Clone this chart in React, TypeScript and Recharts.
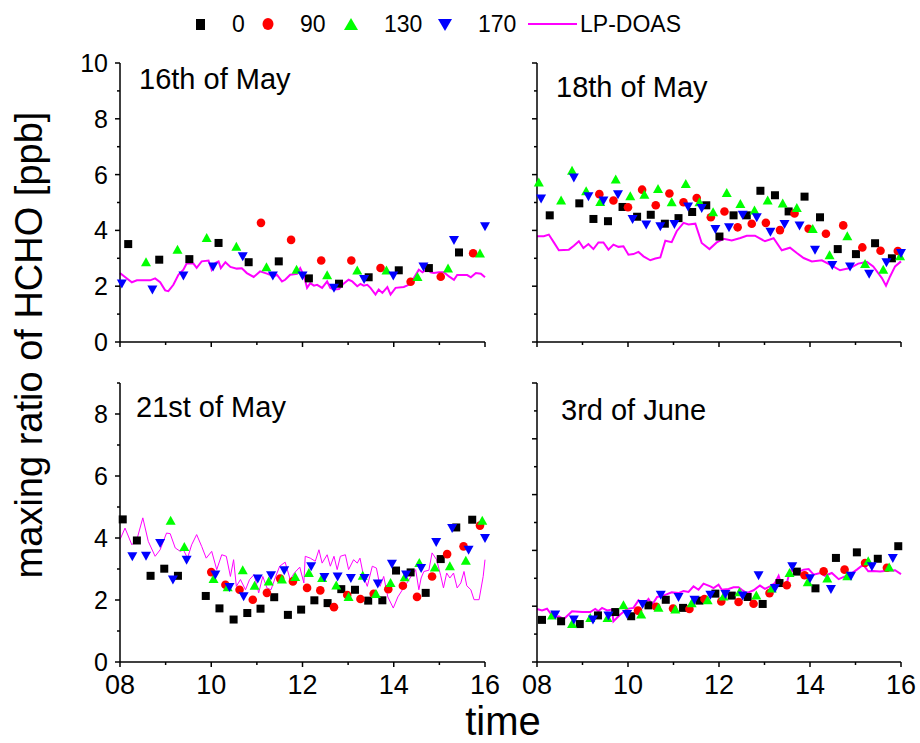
import React from 'react';
import { ComposedChart, Scatter, Line, XAxis, YAxis } from 'recharts';

const FONT = '"Liberation Sans", Arial, sans-serif';

// hour of day, mixing ratio (ppb)
const may16Ch0 = [[8.18,3.51],[8.86,2.95],[9.52,2.97],[10.16,3.55],[10.82,2.86],[11.48,2.89],[12.14,2.28],[12.80,2.09],[13.45,2.32],[14.11,2.57],[14.77,2.65],[15.43,3.21]];
const may16Ch90 = [[11.09,4.27],[11.75,3.66],[12.41,2.92],[13.07,2.92],[13.71,2.65],[14.37,2.16],[15.03,2.34],[15.74,3.18]];
const may16Ch130 = [[8.57,2.86],[9.26,3.31],[9.90,3.73],[10.55,3.41],[11.21,2.68],[11.87,2.59],[12.54,2.39],[13.20,2.56],[13.84,2.56],[14.52,2.33],[15.19,2.63],[15.89,3.17]];
const may16Ch170 = [[8.04,2.10],[8.71,1.88],[9.39,2.38],[10.04,2.71],[10.69,3.07],[11.35,2.38],[12.00,2.38],[12.69,1.94],[13.35,2.26],[13.99,2.38],[14.65,2.71],[15.32,3.66],[16.00,4.15]];
const may16Lp = [[8.00,2.47],[8.11,2.33],[8.26,2.14],[8.37,2.21],[8.51,2.21],[8.66,2.21],[8.77,2.28],[8.88,2.14],[8.99,1.85],[9.06,1.82],[9.17,2.05],[9.28,2.41],[9.39,2.59],[9.46,2.81],[9.61,2.81],[9.68,2.66],[9.79,2.89],[9.94,2.92],[10.01,2.59],[10.09,2.83],[10.16,2.89],[10.21,2.65],[10.31,2.86],[10.42,2.69],[10.56,2.63],[10.67,2.64],[10.78,2.47],[10.93,2.33],[11.07,2.53],[11.22,2.45],[11.29,2.41],[11.37,2.35],[11.44,2.41],[11.55,2.17],[11.62,2.23],[11.73,2.41],[11.88,2.44],[11.95,2.65],[12.03,2.38],[12.10,1.94],[12.17,2.11],[12.25,2.02],[12.32,2.05],[12.43,1.94],[12.54,2.17],[12.61,1.94],[12.69,1.88],[12.80,1.90],[12.90,2.09],[13.01,2.23],[13.09,2.17],[13.20,2.00],[13.27,2.08],[13.34,2.02],[13.42,2.05],[13.49,1.94],[13.60,1.70],[13.67,1.88],[13.75,1.76],[13.86,1.97],[13.93,1.70],[14.04,1.94],[14.22,1.97],[14.33,2.05],[14.44,2.29],[14.55,2.59],[14.63,2.50],[14.73,2.62],[14.81,2.50],[14.88,2.47],[14.99,2.50],[15.10,2.50],[15.21,2.35],[15.32,2.23],[15.39,2.40],[15.50,2.40],[15.61,2.40],[15.69,2.32],[15.80,2.47],[15.91,2.45],[16.00,2.32]];

const may18Ch0 = [[8.28,4.54],[8.93,4.97],[9.24,4.41],[9.56,4.33],[9.88,4.84],[10.20,4.49],[10.50,4.56],[10.81,4.24],[11.11,4.44],[11.41,4.66],[11.72,4.90],[12.01,3.78],[12.32,4.54],[12.61,4.54],[12.91,5.42],[13.23,5.26],[13.53,4.68],[13.88,5.21],[14.22,4.47],[14.61,3.33],[15.01,3.15],[15.43,3.54],[15.80,3.00]];
const may18Ch90 = [[9.37,5.30],[9.68,5.07],[10.00,4.83],[10.31,5.46],[10.61,4.90],[10.91,5.32],[11.22,5.01],[11.51,5.16],[11.82,4.47],[12.12,4.68],[12.41,4.11],[12.72,4.24],[13.03,4.27],[13.34,4.01],[13.66,4.61],[13.97,4.06],[14.35,3.88],[14.73,4.18],[15.15,3.39],[15.55,3.27],[15.93,3.26]];
const may18Ch130 = [[8.04,5.72],[8.53,5.07],[8.77,6.14],[9.08,5.40],[9.39,5.02],[9.73,5.82],[10.05,5.22],[10.36,5.28],[10.66,5.48],[10.96,5.01],[11.27,5.66],[11.57,5.01],[11.87,4.65],[12.17,5.34],[12.47,4.95],[12.78,4.71],[13.07,5.07],[13.40,4.96],[13.71,4.80],[14.06,4.05],[14.43,3.11],[14.82,3.79],[15.21,2.80],[15.61,2.59],[15.98,3.07]];
const may18Ch170 = [[8.09,5.14],[8.81,5.90],[9.13,5.22],[9.46,5.07],[9.78,5.30],[10.10,4.41],[10.40,4.21],[10.71,4.15],[11.02,4.23],[11.32,4.86],[11.62,4.80],[11.92,4.05],[12.22,4.11],[12.52,4.56],[12.83,4.47],[13.13,3.95],[13.44,4.23],[13.77,4.18],[14.11,3.31],[14.49,2.76],[14.88,2.71],[15.30,2.45],[15.68,2.86],[16.00,3.19]];
const may18Lp = [[8.00,3.79],[8.15,3.79],[8.26,3.85],[8.37,3.57],[8.48,3.29],[8.70,3.31],[8.81,3.45],[8.92,3.61],[9.02,3.37],[9.13,3.51],[9.24,3.33],[9.35,3.57],[9.46,3.57],[9.57,3.31],[9.68,3.49],[9.79,3.41],[9.90,3.43],[10.01,3.13],[10.12,3.15],[10.23,3.23],[10.34,3.07],[10.49,2.93],[10.60,2.99],[10.71,3.03],[10.82,3.63],[10.96,3.58],[11.07,3.97],[11.22,4.27],[11.33,4.21],[11.48,4.24],[11.62,3.55],[11.79,3.33],[11.95,3.57],[12.10,3.70],[12.28,3.64],[12.47,3.73],[12.61,3.81],[12.79,3.81],[13.01,3.61],[13.20,3.72],[13.38,3.29],[13.56,3.38],[13.71,3.19],[13.86,3.01],[14.04,2.89],[14.26,2.93],[14.44,2.77],[14.66,2.57],[14.88,2.65],[15.06,2.81],[15.25,2.87],[15.39,2.71],[15.58,2.29],[15.67,2.02],[15.76,2.35],[15.87,2.71],[16.00,2.89]];

const may21Ch0 = [[8.06,4.60],[8.37,3.92],[8.67,2.78],[8.97,3.01],[9.27,2.78],[9.88,2.13],[10.18,1.73],[10.49,1.37],[10.79,1.58],[11.08,1.72],[11.38,2.09],[11.68,1.52],[11.97,1.69],[12.26,1.99],[12.55,1.90],[12.85,2.35],[13.15,2.33],[13.44,1.98],[13.75,1.99],[14.05,2.95],[14.37,2.89],[14.70,2.23],[15.03,3.32],[15.37,4.34],[15.72,4.59]];
const may21Ch90 = [[10.00,2.90],[10.31,2.49],[10.62,2.33],[10.91,2.01],[11.22,2.23],[11.51,2.69],[11.79,2.60],[12.10,2.39],[12.39,2.31],[12.69,1.77],[12.98,2.16],[13.27,2.03],[13.56,2.20],[13.88,2.35],[14.20,2.46],[14.51,2.10],[14.84,2.76],[15.17,3.48],[15.53,3.73],[15.89,4.40]];
const may21Ch130 = [[9.11,4.56],[9.41,3.71],[10.05,2.68],[10.36,2.41],[10.69,2.96],[10.95,2.46],[11.26,2.60],[11.55,2.66],[11.84,2.74],[12.14,2.87],[12.43,2.71],[12.74,2.47],[13.01,2.10],[13.32,2.78],[13.61,2.19],[13.93,2.55],[14.24,2.73],[14.56,3.19],[14.90,3.05],[15.23,3.09],[15.58,3.27],[15.94,4.56]];
const may21Ch170 = [[8.27,3.41],[8.57,3.43],[8.88,3.84],[9.16,2.66],[9.46,3.30],[10.09,2.82],[10.40,2.42],[10.71,2.12],[11.02,2.69],[11.31,2.80],[11.60,2.96],[12.19,3.09],[12.48,2.74],[12.77,2.76],[13.06,2.71],[13.36,2.71],[13.65,2.53],[13.96,3.17],[14.27,2.82],[14.60,3.03],[14.93,3.87],[15.28,4.32],[15.64,3.62],[16.00,4.00]];
const may21Lp = [[8.00,3.95],[8.11,4.32],[8.26,3.78],[8.37,3.95],[8.50,4.65],[8.62,3.89],[8.77,3.41],[8.88,3.62],[9.02,4.16],[9.10,4.14],[9.21,3.68],[9.32,3.57],[9.39,3.62],[9.48,3.35],[9.57,3.78],[9.68,4.11],[9.79,3.73],[9.89,3.35],[10.01,3.57],[10.12,2.98],[10.23,3.46],[10.33,3.41],[10.42,2.76],[10.49,3.30],[10.55,2.44],[10.64,2.66],[10.75,2.33],[10.84,2.66],[10.94,2.82],[11.04,2.23],[11.13,2.76],[11.22,2.39],[11.31,2.33],[11.40,2.71],[11.50,3.09],[11.62,3.22],[11.73,2.66],[11.82,2.87],[11.94,3.06],[12.03,2.55],[12.06,3.41],[12.17,3.35],[12.28,3.25],[12.36,3.62],[12.43,3.19],[12.54,3.46],[12.61,3.09],[12.69,3.41],[12.76,2.98],[12.83,3.41],[12.94,3.46],[13.01,2.98],[13.12,3.30],[13.20,3.19],[13.26,3.35],[13.34,2.76],[13.42,2.44],[13.53,3.09],[13.62,3.03],[13.70,2.44],[13.78,2.76],[13.87,2.10],[13.99,1.74],[14.09,2.10],[14.19,2.33],[14.28,2.53],[14.38,2.76],[14.48,2.98],[14.55,2.33],[14.60,2.71],[14.66,2.92],[14.77,2.96],[14.84,3.52],[14.94,3.30],[15.03,2.78],[15.09,2.39],[15.16,2.87],[15.23,2.71],[15.31,2.87],[15.39,2.39],[15.47,2.55],[15.54,2.92],[15.60,2.46],[15.69,2.33],[15.76,2.01],[15.87,2.01],[15.96,2.76],[16.00,3.30]];

const jun3Ch0 = [[8.11,1.51],[8.53,1.46],[8.94,1.36],[9.34,1.67],[9.72,1.79],[10.07,1.64],[10.45,2.03],[10.83,2.23],[11.21,1.94],[11.57,2.20],[11.92,2.45],[12.28,2.38],[12.63,2.33],[12.96,2.08],[13.33,2.83],[13.71,3.24],[14.12,2.64],[14.57,3.73],[15.03,3.93],[15.49,3.70],[15.94,4.15]];
const jun3Ch90 = [[10.22,1.84],[10.62,1.98],[10.99,1.92],[11.35,1.90],[11.68,2.26],[12.05,2.17],[12.43,2.15],[12.76,2.09],[13.11,2.47],[13.49,2.75],[13.88,3.11],[14.30,3.25],[14.76,3.31],[15.21,3.55],[15.69,3.38]];
const jun3Ch130 = [[8.33,1.67],[8.77,1.36],[9.17,1.58],[9.55,1.58],[9.90,2.03],[10.29,1.70],[10.67,1.94],[11.04,1.88],[11.40,2.11],[11.75,2.21],[12.10,2.35],[12.45,2.50],[12.82,2.38],[13.16,2.63],[13.55,3.19],[13.95,2.86],[14.38,2.99],[14.82,3.07],[15.28,3.61],[15.74,3.39]];
const jun3Ch170 = [[8.40,1.70],[8.81,1.52],[9.23,1.52],[9.57,1.67],[9.98,1.72],[10.32,2.08],[10.72,2.41],[11.11,2.33],[11.46,2.23],[11.81,2.41],[12.14,2.44],[12.52,2.38],[12.87,3.11],[13.23,2.65],[13.61,3.43],[14.00,3.00],[14.46,2.62],[14.90,3.09],[15.36,3.43],[15.82,3.73]];
const jun3Lp = [[8.00,1.90],[8.11,1.85],[8.22,1.91],[8.37,1.58],[8.48,1.64],[8.59,1.54],[8.77,1.82],[8.99,1.79],[9.17,1.79],[9.28,1.90],[9.35,1.82],[9.43,1.94],[9.54,1.85],[9.65,1.88],[9.68,1.46],[9.83,1.70],[9.98,1.90],[10.12,1.94],[10.23,2.21],[10.34,2.05],[10.45,2.26],[10.53,2.05],[10.64,2.33],[10.78,2.38],[10.96,2.50],[11.11,2.47],[11.22,2.54],[11.33,2.51],[11.44,2.71],[11.55,2.59],[11.66,2.81],[11.81,2.71],[11.88,2.65],[11.99,2.77],[12.06,2.59],[12.21,2.62],[12.32,2.68],[12.43,2.68],[12.50,2.59],[12.61,2.47],[12.76,2.57],[12.90,2.74],[13.01,2.62],[13.12,2.71],[13.23,2.83],[13.31,3.09],[13.38,2.74],[13.49,2.81],[13.56,3.29],[13.71,3.21],[13.86,3.31],[13.97,3.33],[14.08,3.13],[14.22,3.19],[14.33,3.09],[14.48,3.19],[14.63,2.97],[14.77,3.07],[14.88,3.13],[15.03,3.31],[15.17,3.49],[15.28,3.25],[15.39,3.26],[15.54,3.24],[15.69,3.27],[15.87,3.29],[16.00,3.15]];

const xTicks = [8, 9, 10, 11, 12, 13, 14, 15, 16];
const yTicks10 = [0, 1, 2, 3, 4, 5, 6, 7, 8, 9, 10];
const yTicks9 = [0, 1, 2, 3, 4, 5, 6, 7, 8, 9];

const pts = (a: number[][]) => a.map(([x, y]) => ({ x, y }));

const Square = (p: any) => <rect x={p.cx - 4} y={p.cy - 4} width={8} height={8} fill="#000000" />;
const Dot = (p: any) => <circle cx={p.cx} cy={p.cy} r={4.3} fill="#ff0000" />;
const Up = (p: any) => (
  <polygon points={`${p.cx},${p.cy - 5} ${p.cx + 5},${p.cy + 4} ${p.cx - 5},${p.cy + 4}`} fill="#00ff00" />
);
const Down = (p: any) => (
  <polygon points={`${p.cx - 5},${p.cy - 4} ${p.cx + 5},${p.cy - 4} ${p.cx},${p.cy + 5}`} fill="#0000ff" />
);

const XTick = (props: any) => {
  const { x, y, payload, labels } = props;
  const v = payload.value;
  const major = v % 2 === 0;
  return (
    <g>
      <line x1={x} y1={y} x2={x} y2={y + (major ? 5 : 3)} stroke="#000" strokeWidth={1.5} />
      {labels && major && (
        <text x={x} y={y + 32} textAnchor="middle" fontSize={27} fontFamily={FONT} fill="#000">
          {v < 10 ? `0${v}` : `${v}`}
        </text>
      )}
    </g>
  );
};

const YTick = (props: any) => {
  const { x, y, payload, labels } = props;
  const v = payload.value;
  const major = v % 2 === 0;
  return (
    <g>
      <line x1={x - (major ? 5 : 3)} y1={y} x2={x} y2={y} stroke="#000" strokeWidth={1.5} />
      {labels && major && (
        <text x={x - 12} y={y + 9} textAnchor="end" fontSize={25} fontFamily={FONT} fill="#000">
          {v}
        </text>
      )}
    </g>
  );
};

type PanelProps = {
  left: number;
  top: number;
  width: number;
  height: number;
  margin: { top: number; right: number; bottom: number; left: number };
  yWidth: number;
  yMax: number;
  yTicks: number[];
  showX: boolean;
  showY: boolean;
  ch0: number[][];
  ch90: number[][];
  ch130: number[][];
  ch170: number[][];
  lp: number[][];
  lpWidth: number;
};

const Panel = (p: PanelProps) => (
  <div style={{ position: 'absolute', left: p.left, top: p.top }}>
    <ComposedChart width={p.width} height={p.height} margin={p.margin}>
      <XAxis
        type="number"
        dataKey="x"
        domain={[8, 16]}
        ticks={xTicks}
        interval={0}
        height={30}
        tickSize={0}
        tickMargin={0}
        tickLine={false}
        axisLine={{ stroke: '#000', strokeWidth: 1.5 }}
        tick={(t: any) => <XTick {...t} labels={p.showX} />}
      />
      <YAxis
        type="number"
        dataKey="y"
        domain={[0, p.yMax]}
        ticks={p.yTicks}
        interval={0}
        width={p.yWidth}
        tickSize={0}
        tickMargin={0}
        tickLine={false}
        axisLine={{ stroke: '#000', strokeWidth: 1.5 }}
        tick={(t: any) => <YTick {...t} labels={p.showY} />}
      />
      <Scatter data={pts(p.ch0)} dataKey="y" shape={Square} isAnimationActive={false} />
      <Scatter data={pts(p.ch90)} dataKey="y" shape={Dot} isAnimationActive={false} />
      <Scatter data={pts(p.ch130)} dataKey="y" shape={Up} isAnimationActive={false} />
      <Scatter data={pts(p.ch170)} dataKey="y" shape={Down} isAnimationActive={false} />
      <Line
        data={pts(p.lp)}
        dataKey="y"
        type="linear"
        stroke="#ff00ff"
        strokeWidth={p.lpWidth}
        dot={false}
        isAnimationActive={false}
      />
    </ComposedChart>
  </div>
);

const Overlay = () => (
  <svg width={920} height={743} style={{ position: 'absolute', left: 0, top: 0, pointerEvents: 'none' }}>
    <g fontFamily={FONT} fill="#000">
      {/* legend */}
      <rect x={196} y={19} width={9} height={11} fill="#000000" />
      <text x={232} y={32} fontSize={23}>0</text>
      <ellipse cx={268} cy={24} rx={5.5} ry={6} fill="#ff0000" />
      <text x={300} y={32} fontSize={23}>90</text>
      <polygon points="351,18 358,30 344,30" fill="#00ff00" />
      <text x={384} y={32} fontSize={23}>130</text>
      <polygon points="438,19 452,19 445,31" fill="#0000ff" />
      <text x={478} y={32} fontSize={23}>170</text>
      <line x1={528} y1={24} x2={577} y2={24} stroke="#ff00ff" strokeWidth={2} />
      <text x={580} y={32} fontSize={23}>LP-DOAS</text>

      {/* panel titles */}
      <text x={139} y={89} fontSize={29}>16th of May</text>
      <text x={556} y={97} fontSize={29}>18th of May</text>
      <text x={136} y={417} fontSize={29}>21st of May</text>
      <text x={561} y={420} fontSize={29}>3rd of June</text>

      {/* axis titles */}
      <text x={503} y={735} fontSize={40} textAnchor="middle">time</text>
      <text x={42} y={345} fontSize={38} textAnchor="middle" transform="rotate(-90 42 345)">
        maxing ratio of HCHO [ppb]
      </text>
    </g>
  </svg>
);

export default function App() {
  return (
    <div style={{ position: 'absolute', left: 0, top: 0, width: 920, height: 743, background: '#fff', overflow: 'hidden' }}>
      <Panel
        left={0} top={0} width={500} height={380}
        margin={{ top: 63, right: 15, bottom: 8, left: 0 }}
        yWidth={120} yMax={10} yTicks={yTicks10} showX={false} showY={true}
        ch0={may16Ch0} ch90={may16Ch90} ch130={may16Ch130} ch170={may16Ch170} lp={may16Lp} lpWidth={2}
      />
      <Panel
        left={437} top={0} width={483} height={380}
        margin={{ top: 63, right: 19, bottom: 8, left: 0 }}
        yWidth={100} yMax={10} yTicks={yTicks10} showX={false} showY={false}
        ch0={may18Ch0} ch90={may18Ch90} ch130={may18Ch130} ch170={may18Ch170} lp={may18Lp} lpWidth={2}
      />
      <Panel
        left={0} top={340} width={500} height={360}
        margin={{ top: 43, right: 15, bottom: 8, left: 0 }}
        yWidth={120} yMax={9} yTicks={yTicks9} showX={true} showY={true}
        ch0={may21Ch0} ch90={may21Ch90} ch130={may21Ch130} ch170={may21Ch170} lp={may21Lp} lpWidth={1}
      />
      <Panel
        left={437} top={340} width={483} height={360}
        margin={{ top: 43, right: 19, bottom: 8, left: 0 }}
        yWidth={100} yMax={10} yTicks={yTicks10} showX={true} showY={false}
        ch0={jun3Ch0} ch90={jun3Ch90} ch130={jun3Ch130} ch170={jun3Ch170} lp={jun3Lp} lpWidth={2}
      />
      <Overlay />
    </div>
  );
}
